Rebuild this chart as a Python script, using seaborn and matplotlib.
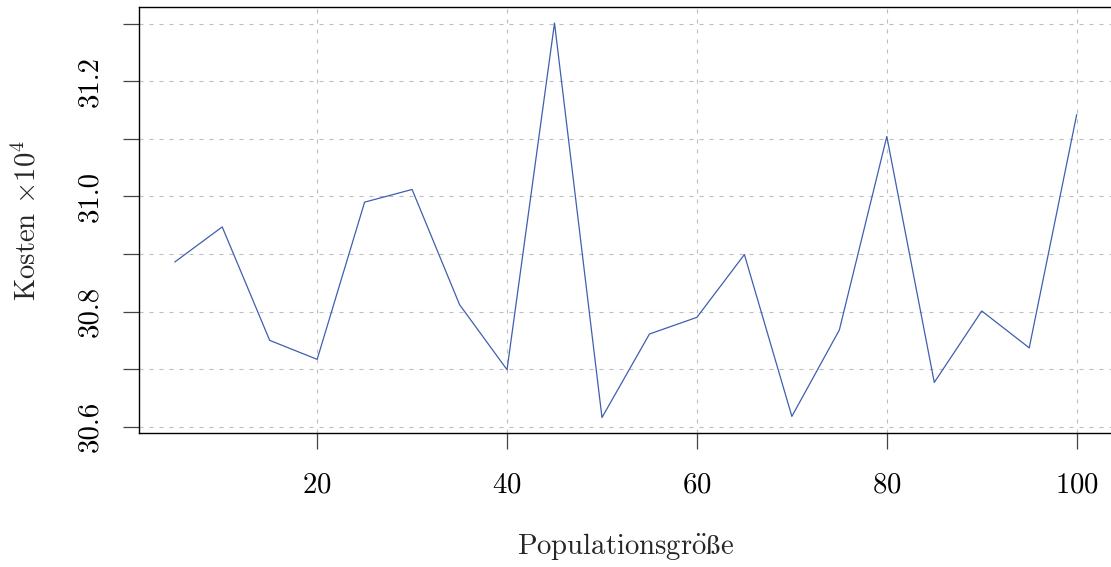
import matplotlib
matplotlib.use("Agg")
import matplotlib.pyplot as plt
import pandas as pd
import seaborn as sns
from matplotlib.ticker import FixedLocator, FixedFormatter

# Kosten (in Einheiten von 10^4) je Populationsgröße
population = [5, 10, 15, 20, 25, 30, 35, 40, 45, 50,
              55, 60, 65, 70, 75, 80, 85, 90, 95, 100]
kosten = [30.886, 30.947, 30.750, 30.717, 30.990, 31.012, 30.812, 30.699, 31.301, 30.616,
          30.761, 30.790, 30.899, 30.618, 30.768, 31.104, 30.677, 30.801, 30.737, 31.142]

x_ticks = [20, 40, 60, 80, 100]
y_ticks = [30.6, 30.7, 30.8, 30.9, 31.0, 31.1, 31.2, 31.3]
y_tick_labels = ["30.6", "", "30.8", "", "31.0", "", "31.2", ""]

df = pd.DataFrame({"Populationsgröße": population, "Kosten": kosten})

sns.set_style("white")
plt.rcParams["font.family"] = ["cmr10", "DejaVu Serif"]
plt.rcParams["mathtext.fontset"] = "cm"
plt.rcParams["axes.unicode_minus"] = False
plt.rcParams["axes.formatter.use_mathtext"] = True
plt.rcParams["lines.scale_dashes"] = False

fs = 20.7

fig = plt.figure(figsize=(11.11, 5.67), dpi=100)
ax = fig.add_axes([0.1248, 0.2358, 0.8768, 0.7524])

sns.lineplot(data=df, x="Populationsgröße", y="Kosten", ax=ax,
             color="#3F5FAF", linewidth=0.9, zorder=3)

ax.set_xlim(1.2, 103.8)
ax.set_ylim(30.5886, 31.3294)

ax.xaxis.set_major_locator(FixedLocator(x_ticks))
ax.yaxis.set_major_locator(FixedLocator(y_ticks))
ax.yaxis.set_major_formatter(FixedFormatter(y_tick_labels))

ax.grid(True, color="#bdbdbd", linewidth=0.8, linestyle=(0, (2.9, 4.3)), zorder=1)

for side in ["left", "top", "bottom"]:
    ax.spines[side].set_visible(True)
    ax.spines[side].set_color("black")
    ax.spines[side].set_linewidth(1.0)
ax.spines["right"].set_visible(False)

ax.tick_params(axis="both", direction="out", length=11.5, width=0.9,
               color="#444444", labelsize=fs, labelcolor="black")
ax.tick_params(axis="x", pad=16.5, bottom=True)
ax.tick_params(axis="y", pad=14, left=True, labelrotation=90)
for lab in ax.get_yticklabels():
    lab.set_verticalalignment("center")

# whole label in Computer Modern mathtext (umlaut as accent)
ax.set_xlabel(r"$\mathrm{Populationsgr\ddot{o}ße}$", fontsize=fs)
ax.xaxis.set_label_coords(0.5, -0.2665)
ax.xaxis.label.set_verticalalignment("center")
ax.set_ylabel(r"Kosten $\times 10^4$", fontsize=fs)
ax.yaxis.set_label_coords(-0.1147, 0.5)
ax.yaxis.label.set_verticalalignment("center")

fig.savefig("out.png", dpi=100)
